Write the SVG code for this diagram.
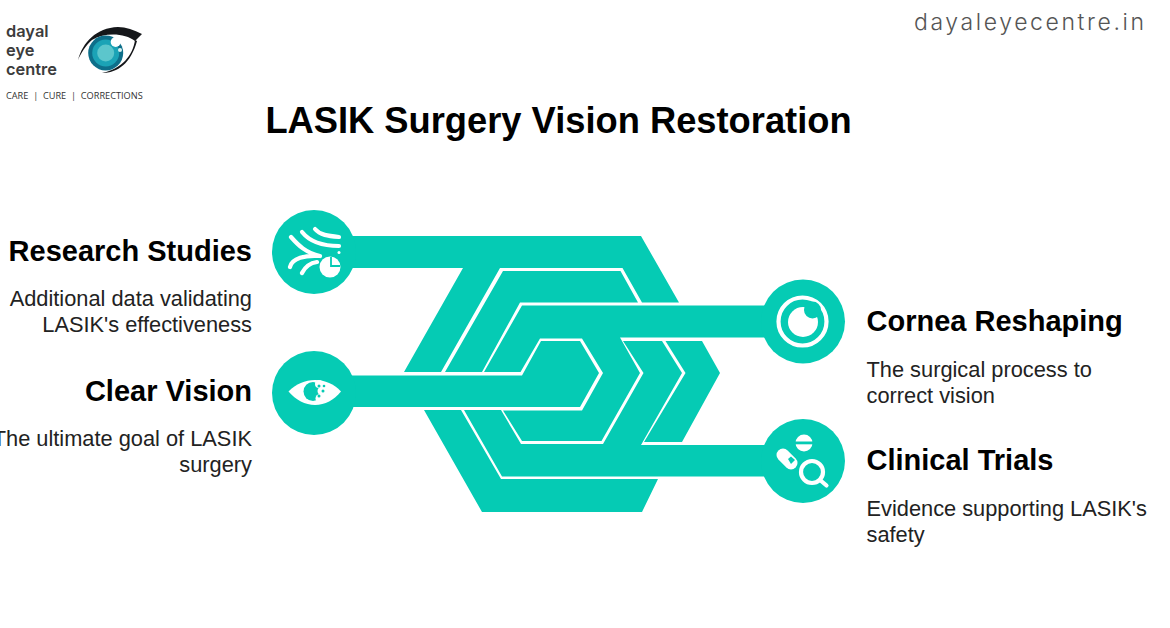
<svg xmlns="http://www.w3.org/2000/svg" width="1170" height="628" viewBox="0 0 1170 628">
<style>
text{font-family:"Liberation Sans",Arial,sans-serif;fill:#000}
.h{font-size:29px;font-weight:700}
.b{font-size:21.8px;fill:#222}
.e{text-anchor:end}
.band{fill:#05CBB4}
.node{fill:#05CBB4}
.ic{fill:none;stroke:#fff;stroke-width:4.2;stroke-linecap:round;stroke-linejoin:round}
.w{fill:#fff}
.t{fill:#05CBB4}
.logo{font-family:Inter,"Liberation Sans",sans-serif;font-weight:600;font-size:16.4px;fill:#3c3c3c}
</style>
<rect width="1170" height="628" fill="#fff"/>
<g id="logo">
<text class="logo" x="6" y="37">dayal</text>
<text class="logo" x="6" y="56">eye</text>
<text class="logo" x="6" y="75">centre</text>
<text x="6" y="99" xml:space="preserve" style="font-family:'Open Sans','Liberation Sans',sans-serif;font-size:9.2px;fill:#333">CARE  |  CURE  |  CORRECTIONS</text>
<path d="M78 60C83 42 96 28 118 27C126 27 134 30 142 34L135 41C125 33 105 32 92 40C86 45 81 53 78 60Z" fill="#15171a"/>
<path d="M135 40C133 55 122 69 102 73C118 73 131 63 137 41Z" fill="#15171a"/>
<circle cx="105.700" cy="53" r="17.500" fill="#0e6f8a"/>
<circle cx="105.700" cy="53" r="13.500" fill="#1ba3b6"/>
<circle cx="105.700" cy="53" r="8.500" fill="#5cc6cc"/>
<circle cx="115.700" cy="42" r="5" fill="#fff"/>
<circle cx="120" cy="50" r="2" fill="#d8f3f3"/>
</g>
<text x="914" y="30" style="font-family:Inter,'Liberation Sans',sans-serif;font-size:23px;font-weight:300;letter-spacing:2.6px;fill:#555">dayaleyecentre.in</text>
<text x="558.500" y="133" text-anchor="middle" style="font-size:36.300px;font-weight:700">LASIK Surgery Vision Restoration</text>
<g id="connectors">
<path class="band" d="M314 236H641L679 302.500H642L622.500 268H500L441 372H404L463 268H314Z"/>
<path class="band" d="M702 341L720 373L682 442H644L685.500 373L665.500 341Z"/>
<path class="band" d="M424 410L482 512H642L658 479H501L461 410Z"/>
<path class="band" d="M445 372L503 271H620.500L638 302.500H520L482 372Z"/>
<path class="band" d="M800 305.500H522L484 372H520.500L540 338.500H582L603 373L582 410.500H503L522 441H601.500L640 373L620 337.500H800Z"/>
<path class="band" d="M800 445H641L682 373L662 341H623L643.500 373L603 444H521L501 410H464L502 476.500H800Z"/>
<path class="band" d="M314 375.500H522L541 341H580L599 373L580 407H314Z"/>
</g>
<g id="node-research">
<circle class="node" cx="314" cy="252" r="42"/>
<path class="ic" d="M315 229C320 235 328 236 339 237M302 232C310 242 324 246 339 246"/>
<path class="ic" d="M291 237C298 245 306 253 320 256M320 256C305 255 292 258 290 267M302 273C305 267 310 263 317 262"/>
<circle class="w" cx="330" cy="267" r="10.500"/>
<path d="M331 257V266H340" fill="none" stroke="#05CBB4" stroke-width="1.800"/>
<circle class="w" cx="339" cy="252.500" r="1.500"/>
<text class="h e" x="252" y="260.500">Research Studies</text>
<text class="b e" x="252" y="306">Additional data validating</text>
<text class="b e" x="252" y="332">LASIK's effectiveness</text>
</g>
<g id="node-clear">
<circle class="node" cx="314" cy="393" r="42"/>
<path class="w" d="M288.500 391.500C296 384 305 380 315 380C325 380 334 384 341 391.500C334 400 325 405 315 405C305 405 296 400 288.500 391.500Z"/>
<circle class="t" cx="313" cy="391.500" r="9.500"/>
<g class="w"><circle cx="319" cy="384" r="4"/><circle cx="320" cy="398.500" r="4.500"/><circle cx="322" cy="391" r="4.500"/></g>
<g class="t"><circle cx="319" cy="386" r="1.500"/><circle cx="323" cy="391" r="1.500"/><circle cx="319" cy="396" r="1.500"/><circle cx="324" cy="386" r="1.300"/></g>
<text class="h e" x="252" y="400.500">Clear Vision</text>
<text class="b e" x="252" y="446">The ultimate goal of LASIK</text>
<text class="b e" x="252" y="472">surgery</text>
</g>
<g id="node-cornea">
<circle class="node" cx="803" cy="321.500" r="42"/>
<circle class="ic" cx="802.500" cy="321.500" r="24"/>
<circle class="w" cx="803" cy="322" r="15"/>
<circle class="t" cx="812.500" cy="310" r="8.500"/>
<text class="h" x="866.500" y="330.500">Cornea Reshaping</text>
<text class="b" x="866.500" y="377">The surgical process to</text>
<text class="b" x="866.500" y="403">correct vision</text>
</g>
<g id="node-clinical">
<circle class="node" cx="803" cy="461" r="42"/>
<circle class="w" cx="804" cy="443" r="8.500"/>
<rect x="795" y="441.500" width="18" height="2.800" class="t"/>
<path d="M783 455L791 463" stroke="#fff" stroke-width="13" stroke-linecap="round" fill="none"/>
<path d="M788 459L791 456.500L795 460L791 464Z" class="t"/>
<circle class="ic" cx="812" cy="472" r="11"/>
<path class="ic" d="M820 480L826.500 485.500" stroke-width="4.500"/>
<text class="h" x="866.500" y="470">Clinical Trials</text>
<text class="b" x="866.500" y="516">Evidence supporting LASIK's</text>
<text class="b" x="866.500" y="542">safety</text>
</g>
</svg>
